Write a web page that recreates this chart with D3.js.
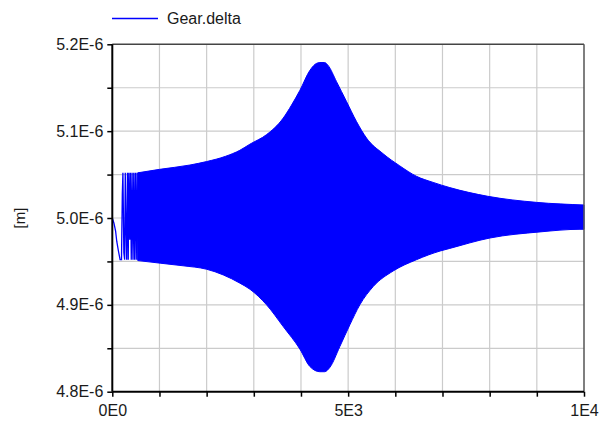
<!DOCTYPE html>
<html>
<head>
<meta charset="utf-8">
<script src="https://cdn.jsdelivr.net/npm/d3@7"></script>
<style>
  body { margin: 0; background: #fff; }
  svg { display: block; font-family: "Liberation Sans", Arial, sans-serif; }
</style>
</head>
<body>
<div id="chart"></div>
<script>
// valeurs en 1E-6 m, temps en s
var seriesName = "Gear.delta";
var yUnit = "[m]";
var xTickLabels = { 0: "0E0", 5000: "5E3", 10000: "1E4" };

// début du signal (transitoire)
var transientT = [0, 35, 70, 95, 130, 165, 195, 212, 225, 245, 262, 275, 290, 305, 322, 338, 352, 370, 385, 402, 420, 438, 455, 472, 490, 508, 525, 545, 560];
var transientV = [5.000, 4.994, 4.985, 4.973, 4.962, 4.952, 4.952, 5.027, 5.052, 4.960, 4.952, 5.052, 4.990, 4.952, 5.052, 4.952, 5.052, 4.975, 5.052, 4.952, 5.052, 4.952, 5.052, 4.952, 5.052, 4.952, 5.052, 4.952, 5.052];

// enveloppe haute de l'oscillation
var upperT = [540, 1000, 1646, 2000, 2400, 2705, 2917, 3271, 3623, 3800, 3977, 4189, 4300, 4400, 4500, 4570, 4754, 4966, 5178, 5390, 5741, 6095, 6449, 6801, 7155, 7960, 8991, 10000];
var upperV = [5.052, 5.056, 5.061, 5.065, 5.071, 5.078, 5.085, 5.096, 5.115, 5.130, 5.147, 5.170, 5.177, 5.179, 5.179, 5.176, 5.157, 5.134, 5.111, 5.092, 5.074, 5.060, 5.048, 5.041, 5.035, 5.025, 5.018, 5.015];

// enveloppe basse
var lowerT = [540, 1015, 1500, 2000, 2705, 2917, 3271, 3623, 3977, 4189, 4400, 4500, 4612, 4824, 5036, 5247, 5530, 5954, 6449, 6950, 7155, 8008, 9068, 9915, 10000];
var lowerV = [4.951, 4.948, 4.945, 4.941, 4.925, 4.918, 4.900, 4.875, 4.849, 4.829, 4.823, 4.823, 4.828, 4.852, 4.877, 4.900, 4.921, 4.939, 4.952, 4.962, 4.965, 4.977, 4.984, 4.987, 4.987];

var width = 603, height = 421;
var margin = { top: 44.3, right: 19, bottom: 29.3, left: 112.3 };

var svg = d3.select("#chart").append("svg")
  .attr("width", width)
  .attr("height", height);

var x = d3.scaleLinear().domain([0, 10000]).range([margin.left, width - margin.right]);
var y = d3.scaleLinear().domain([4.8, 5.2]).range([height - margin.bottom, margin.top]);

var xGrid = d3.range(0, 10001, 1000);
var yGrid = d3.range(4.8, 5.2001, 0.05);

// grille
svg.append("g")
  .selectAll("line")
  .data(xGrid.slice(1, -1))
  .enter().append("line")
  .attr("x1", d => x(d)).attr("x2", d => x(d))
  .attr("y1", y(5.2)).attr("y2", y(4.8))
  .attr("stroke", "#cbcbcb").attr("stroke-width", 1.2);

svg.append("g")
  .selectAll("line")
  .data(yGrid.slice(1, -1))
  .enter().append("line")
  .attr("x1", x(0)).attr("x2", x(10000))
  .attr("y1", d => y(d)).attr("y2", d => y(d))
  .attr("stroke", "#cbcbcb").attr("stroke-width", 1.2);

// oscillation : remplissage entre chaque enveloppe et la valeur moyenne
var upper = upperT.map((t, i) => ({ t: t, v: upperV[i] }));
var lower = lowerT.map((t, i) => ({ t: t, v: lowerV[i] }));

var envArea = d3.area()
  .x(d => x(d.t))
  .y0(y(5.0))
  .y1(d => y(d.v))
  .curve(d3.curveMonotoneX);

[upper, lower].forEach(env => {
  svg.append("path")
    .datum(env)
    .attr("d", envArea)
    .attr("fill", "#0000ff")
    .attr("stroke", "#0000ff")
    .attr("stroke-width", 1);
});

var transient = transientT.map((t, i) => ({ t: t, v: transientV[i] }));
svg.append("path")
  .datum(transient)
  .attr("d", d3.line().x(d => x(d.t)).y(d => y(d.v)))
  .attr("fill", "none")
  .attr("stroke", "#0000ff")
  .attr("stroke-width", 1.3);

// cadre haut et droit
svg.append("line")
  .attr("x1", x(0)).attr("x2", x(10000))
  .attr("y1", y(5.2)).attr("y2", y(5.2))
  .attr("stroke", "#444").attr("stroke-width", 1.5);
svg.append("line")
  .attr("x1", x(10000)).attr("x2", x(10000))
  .attr("y1", y(5.2)).attr("y2", y(4.8))
  .attr("stroke", "#555").attr("stroke-width", 1.5);

// axes
var xAxis = d3.axisBottom(x)
  .tickValues(xGrid)
  .tickSize(5)
  .tickPadding(8)
  .tickFormat(d => xTickLabels[d] || "");
var gx = svg.append("g")
  .attr("transform", "translate(0," + y(4.8) + ")")
  .call(xAxis);

var yAxis = d3.axisLeft(y)
  .tickValues(yGrid)
  .tickSize(5)
  .tickPadding(4)
  .tickFormat((d, i) => i % 2 === 0 ? d.toFixed(1) + "E-6" : "");
var gy = svg.append("g")
  .attr("transform", "translate(" + x(0) + ",0)")
  .call(yAxis);

[gx, gy].forEach(g => {
  g.select(".domain").attr("stroke", "#000").attr("stroke-width", 2);
  g.selectAll(".tick line").attr("stroke", "#000").attr("stroke-width", 1.5);
  g.selectAll(".tick text")
    .attr("fill", "#1a1a1a")
    .style("font-size", "16px")
    .style("font-family", "'Liberation Sans', Arial, sans-serif");
});
gx.select(".domain").attr("d", "M" + x(0) + ",0H" + x(10000));
gy.select(".domain").attr("d", "M0," + y(4.8) + "V" + y(5.2));

// libellé de l'axe y
svg.append("text")
  .attr("transform", "translate(25," + y(5.0) + ") rotate(-90)")
  .attr("text-anchor", "middle")
  .attr("fill", "#1a1a1a")
  .style("font-size", "15px")
  .text(yUnit);

// légende
var legend = svg.append("g");
legend.append("line")
  .attr("x1", 112).attr("x2", 158)
  .attr("y1", 18.5).attr("y2", 18.5)
  .attr("stroke", "#0000ff").attr("stroke-width", 1.5);
legend.append("text")
  .attr("x", 167).attr("y", 24)
  .attr("fill", "#1a1a1a")
  .style("font-size", "16px")
  .text(seriesName);
</script>
</body>
</html>
